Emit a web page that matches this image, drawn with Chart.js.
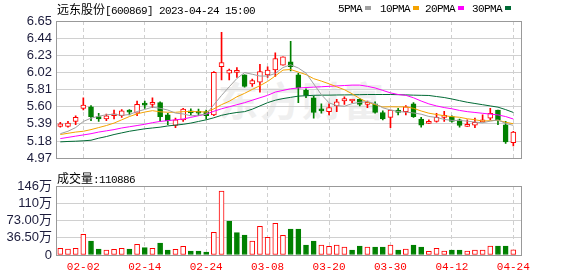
<!DOCTYPE html>
<html>
<head>
<meta charset="utf-8">
<script src="https://cdn.jsdelivr.net/npm/chart.js@4.4.1/dist/chart.umd.min.js"></script>
<style>
  body { margin: 0; width: 578px; height: 276px; background: #fff; position: relative; overflow: hidden; }
  .txt { position: absolute; font-family: "Liberation Mono", monospace; font-size: 11px; letter-spacing: -0.6px; line-height: 13px; color: #000; white-space: nowrap; }
  .cjk { font-family: "Noto Sans CJK SC"; font-size: 12px; letter-spacing: 0; }
  .sw { display: inline-block; width: 6px; height: 4px; margin-left: 3px; vertical-align: 2px; }
  .mark { position: absolute; left: 218px; top: 70px; font-family: "Noto Sans CJK SC"; font-weight: bold; font-size: 40px; color: #efefef; letter-spacing: 2px; }
  #priceWrap { position: absolute; left: 0; top: 0; }
  #volWrap { position: absolute; left: 0; top: 170px; }
</style>
</head>
<body>
<div class="mark">东方财富</div>
<div id="priceWrap"><canvas id="priceChart" width="578" height="170"></canvas></div>
<div id="volWrap"><canvas id="volChart" width="578" height="106"></canvas></div>

<div class="txt" style="left:57px;top:2px"><span class="cjk">远东股份</span>[600869] 2023-04-24 15:00</div>
<div class="txt" style="left:338px;top:3px">5PMA<span class="sw" style="background:#a0a0a0"></span></div>
<div class="txt" style="left:380px;top:3px">10PMA<span class="sw" style="background:#f5a300"></span></div>
<div class="txt" style="left:425px;top:3px">20PMA<span class="sw" style="background:#ff00ff"></span></div>
<div class="txt" style="left:472px;top:3px">30PMA<span class="sw" style="background:#006a35"></span></div>
<div class="txt" style="left:57px;top:171px"><span class="cjk">成交量</span>:110886</div>

<script>
const dates = [
  "01-30", "01-31", "02-01", "02-02", "02-03", "02-06", "02-07", "02-08", "02-09", "02-10",
  "02-13", "02-14", "02-15", "02-16", "02-17", "02-20", "02-21", "02-22", "02-23", "02-24",
  "02-27", "02-28", "03-01", "03-02", "03-03", "03-06", "03-07", "03-08", "03-09", "03-10",
  "03-13", "03-14", "03-15", "03-16", "03-17", "03-20", "03-21", "03-22", "03-23", "03-24",
  "03-27", "03-28", "03-29", "03-30", "03-31", "04-03", "04-04", "04-06", "04-07", "04-10",
  "04-11", "04-12", "04-13", "04-14", "04-17", "04-18", "04-19", "04-20", "04-21", "04-24",
];
const tickDates = ["02-02", "02-14", "02-24", "03-08", "03-20", "03-30", "04-12", "04-24"];

const opens = [
  5.36, 5.36, 5.42, 5.58, 5.60, 5.48, 5.45, 5.49, 5.49, 5.54,
  5.52, 5.635, 5.63, 5.65, 5.50, 5.37, 5.44, 5.53, 5.525, 5.54,
  5.50, 6.09, 6.01, 6.02, 5.99, 5.88, 5.90, 5.99, 6.05, 6.11,
  6.15, 5.99, 5.80, 5.71, 5.555, 5.54, 5.61, 5.67, 5.67, 5.69,
  5.63, 5.635, 5.53, 5.47, 5.56, 5.54, 5.635, 5.45, 5.395, 5.42,
  5.47, 5.48, 5.44, 5.36, 5.375, 5.415, 5.46, 5.56, 5.38, 5.16,
];
const highs = [
  5.41, 5.42, 5.49, 5.71, 5.615, 5.52, 5.51, 5.56, 5.565, 5.565,
  5.67, 5.67, 5.71, 5.66, 5.52, 5.46, 5.58, 5.575, 5.57, 5.56,
  6.03, 6.51, 6.06, 6.08, 5.99, 5.94, 6.12, 6.09, 6.26, 6.21,
  6.40, 6.01, 5.82, 5.73, 5.635, 5.635, 5.69, 5.72, 5.69, 5.70,
  5.67, 5.66, 5.55, 5.56, 5.58, 5.615, 5.65, 5.47, 5.44, 5.52,
  5.545, 5.49, 5.45, 5.44, 5.46, 5.50, 5.58, 5.56, 5.42, 5.30,
];
const lows = [
  5.35, 5.35, 5.38, 5.56, 5.43, 5.42, 5.43, 5.45, 5.47, 5.50,
  5.49, 5.58, 5.59, 5.42, 5.38, 5.345, 5.42, 5.50, 5.49, 5.45,
  5.49, 5.93, 5.93, 5.96, 5.84, 5.85, 5.78, 5.96, 5.97, 6.11,
  6.04, 5.65, 5.71, 5.46, 5.52, 5.50, 5.54, 5.63, 5.65, 5.61,
  5.59, 5.52, 5.44, 5.345, 5.50, 5.50, 5.47, 5.35, 5.395, 5.41,
  5.42, 5.41, 5.35, 5.36, 5.345, 5.415, 5.44, 5.38, 5.15, 5.12,
];
const closes = [
  5.39, 5.40, 5.47, 5.62, 5.48, 5.45, 5.49, 5.50, 5.55, 5.535,
  5.63, 5.62, 5.64, 5.48, 5.43, 5.44, 5.57, 5.525, 5.52, 5.49,
  6.02, 6.14, 6.05, 6.03, 5.85, 5.92, 6.03, 6.05, 6.19, 6.21,
  6.09, 5.83, 5.74, 5.53, 5.55, 5.59, 5.66, 5.70, 5.69, 5.63,
  5.635, 5.53, 5.45, 5.56, 5.53, 5.60, 5.48, 5.375, 5.42, 5.47,
  5.48, 5.42, 5.37, 5.38, 5.41, 5.44, 5.52, 5.44, 5.17, 5.29,
];
// volume in 万 (10k shares)
const volumes = [
  14.2, 12.7, 14.0, 43.8, 29.6, 12.7, 10.6, 12.0, 14.0, 12.7,
  22.6, 15.5, 14.0, 25.4, 10.6, 12.0, 18.3, 8.5, 8.5, 6.3,
  48.0, 135.4, 72.0, 47.2, 42.3, 29.6, 60.6, 37.3, 67.0, 41.6,
  55.0, 55.0, 21.0, 29.6, 21.0, 18.3, 21.0, 17.0, 10.6, 19.0,
  17.0, 17.0, 17.0, 21.0, 10.6, 12.7, 21.0, 17.0, 7.7, 14.0,
  8.5, 10.6, 10.6, 8.5, 10.6, 10.6, 19.0, 19.0, 19.0, 11.09,
];

const ma5 = [
  5.27, 5.30, 5.345, 5.42, 5.46, 5.484, 5.502, 5.508, 5.494, 5.505,
  5.541, 5.567, 5.595, 5.581, 5.56, 5.522, 5.512, 5.489, 5.497, 5.509,
  5.625, 5.739, 5.844, 5.946, 6.018, 5.998, 5.976, 5.976, 6.008, 6.08,
  6.114, 6.074, 6.012, 5.88, 5.748, 5.648, 5.614, 5.606, 5.638, 5.654,
  5.663, 5.637, 5.587, 5.561, 5.541, 5.534, 5.524, 5.509, 5.481, 5.469,
  5.445, 5.433, 5.432, 5.424, 5.412, 5.404, 5.424, 5.438, 5.396, 5.372,
];
const ma10 = [
  5.26, 5.275, 5.29, 5.30, 5.32, 5.345, 5.37, 5.40, 5.44, 5.48,
  5.513, 5.535, 5.552, 5.538, 5.533, 5.532, 5.54, 5.542, 5.539, 5.535,
  5.574, 5.626, 5.667, 5.722, 5.764, 5.812, 5.858, 5.91, 5.977, 6.049,
  6.056, 6.025, 5.994, 5.944, 5.914, 5.881, 5.844, 5.809, 5.759, 5.701,
  5.656, 5.626, 5.597, 5.60, 5.598, 5.599, 5.581, 5.548, 5.521, 5.505,
  5.49, 5.479, 5.471, 5.453, 5.441, 5.425, 5.429, 5.435, 5.41, 5.392,
];
const ma20 = [
  5.21, 5.225, 5.24, 5.255, 5.27, 5.29, 5.305, 5.32, 5.34, 5.355,
  5.37, 5.385, 5.405, 5.42, 5.43, 5.44, 5.45, 5.47, 5.49, 5.51,
  5.545, 5.575, 5.60, 5.625, 5.65, 5.68, 5.71, 5.74, 5.78, 5.80,
  5.82, 5.83, 5.835, 5.84, 5.845, 5.85, 5.855, 5.86, 5.865, 5.865,
  5.85, 5.83, 5.80, 5.77, 5.75, 5.74, 5.71, 5.67, 5.635, 5.61,
  5.59, 5.575, 5.555, 5.54, 5.53, 5.52, 5.51, 5.50, 5.48, 5.45,
];
const ma30 = [
  5.17, 5.175, 5.178, 5.183, 5.19, 5.215, 5.235, 5.26, 5.28, 5.30,
  5.315, 5.33, 5.34, 5.35, 5.365, 5.375, 5.385, 5.40, 5.42, 5.44,
  5.465, 5.495, 5.515, 5.53, 5.54, 5.57, 5.61, 5.65, 5.68, 5.70,
  5.715, 5.73, 5.735, 5.74, 5.742, 5.742, 5.744, 5.745, 5.746, 5.748,
  5.75, 5.75, 5.75, 5.75, 5.748, 5.745, 5.742, 5.74, 5.738, 5.725,
  5.713, 5.695, 5.675, 5.655, 5.64, 5.625, 5.61, 5.595, 5.565, 5.53,
];

const priceTicks = [4.97, 5.18, 5.39, 5.6, 5.81, 6.02, 6.23, 6.44, 6.65];
const volTicks = [0, 36.5, 73, 109.5, 146];
const volTickLabels = ["0", "36.50万", "73.00万", "110万", "146万"];

const RED = "#ff0000";
const GREEN = "#008000";
const GRID = "#d0d0d0";
const AXIS_TEXT = "#1c1c3c";

const tickIndexes = tickDates.map((d) => dates.indexOf(d));
const isUp = closes.map((c, i) => c >= opens[i]);
const volUp = closes.map((c, i) => i === 0 || c >= closes[i - 1]);

const frame = {
  id: "frame",
  beforeDatasetsDraw(chart) {
    const { ctx, chartArea: a } = chart;
    ctx.save();
    ctx.strokeStyle = "#999999";
    ctx.lineWidth = 1;
    ctx.strokeRect(Math.round(a.left) + 0.5, Math.round(a.top) + 0.5, Math.round(a.width) - 1, Math.round(a.height));
    ctx.restore();
  },
};

const xScale = (showTicks) => ({
  type: "linear",
  min: -0.56,
  max: 60.13,
  offset: false,
  afterBuildTicks: (scale) => {
    scale.ticks = tickIndexes.map((v) => ({ value: v }));
  },
  afterFit: (scale) => {
    scale.height = showTicks ? 21 : 0;
  },
  border: { display: false, dash: [4, 3] },
  grid: { color: GRID, offset: false, drawTicks: false },
  ticks: {
    display: showTicks,
    autoSkip: false,
    maxRotation: 0,
    padding: 5,
    color: RED,
    font: { family: "'Liberation Mono', monospace", size: 11 },
    callback: (value) => dates[value],
  },
});

const yTicks = (extra) => ({
  autoSkip: false,
  padding: 4,
  color: AXIS_TEXT,
  font: { family: "'Liberation Sans', 'Noto Sans CJK SC'", size: 13 },
  ...extra,
});

const lineSet = (label, values, color) => ({
  type: "line",
  label,
  data: values.map((v, i) => ({ x: i, y: v })),
  borderColor: color,
  borderWidth: 1,
  pointRadius: 0,
  tension: 0,
  order: 0,
});

new Chart(document.getElementById("priceChart"), {
  type: "bar",
  data: {
    datasets: [
      {
        label: "wick",
        data: highs.map((h, i) => ({ x: i, y: [lows[i], h] })),
        backgroundColor: isUp.map((u) => (u ? RED : GREEN)),
        barThickness: 1,
        grouped: false,
        order: 3,
      },
      {
        label: "body",
        data: opens.map((o, i) => ({ x: i, y: [Math.min(o, closes[i]), Math.max(o, closes[i])] })),
        backgroundColor: isUp.map((u) => (u ? "#ffffff" : GREEN)),
        borderColor: isUp.map((u) => (u ? RED : GREEN)),
        borderWidth: 1,
        borderSkipped: false,
        minBarLength: 2,
        barThickness: 5,
        grouped: false,
        order: 2,
      },
      lineSet("5PMA", ma5, "#a0a0a0"),
      lineSet("10PMA", ma10, "#f5a300"),
      lineSet("20PMA", ma20, "#ff00ff"),
      lineSet("30PMA", ma30, "#006a35"),
    ],
  },
  options: {
    responsive: false,
    animation: false,
    layout: { padding: { left: 0, right: 56, top: 21, bottom: 4 } },
    plugins: { legend: { display: false }, tooltip: { enabled: false } },
    scales: {
      x: xScale(false),
      y: {
        min: 4.97,
        max: 6.65,
        afterBuildTicks: (scale) => {
          scale.ticks = priceTicks.map((v) => ({ value: v }));
        },
        afterFit: (scale) => {
          scale.width = 56;
        },
        border: { display: false },
        grid: { color: GRID, drawTicks: false },
        ticks: yTicks({ callback: (value) => value.toFixed(2) }),
      },
    },
  },
  plugins: [frame],
});

new Chart(document.getElementById("volChart"), {
  type: "bar",
  data: {
    datasets: [
      {
        label: "成交量",
        data: volumes.map((v, i) => ({ x: i, y: v })),
        backgroundColor: volUp.map((u) => (u ? "#ffffff" : GREEN)),
        borderColor: volUp.map((u) => (u ? RED : GREEN)),
        borderWidth: 1,
        borderSkipped: false,
        barThickness: 5,
      },
    ],
  },
  options: {
    responsive: false,
    animation: false,
    layout: { padding: { left: 0, right: 56, top: 16, bottom: 0 } },
    plugins: { legend: { display: false }, tooltip: { enabled: false } },
    scales: {
      x: xScale(true),
      y: {
        min: 0,
        max: 146,
        afterBuildTicks: (scale) => {
          scale.ticks = volTicks.map((v) => ({ value: v }));
        },
        afterFit: (scale) => {
          scale.width = 56;
        },
        border: { display: false },
        grid: { color: GRID, drawTicks: false },
        ticks: yTicks({ callback: (value) => volTickLabels[volTicks.indexOf(value)] }),
      },
    },
  },
  plugins: [frame],
});
</script>
</body>
</html>
